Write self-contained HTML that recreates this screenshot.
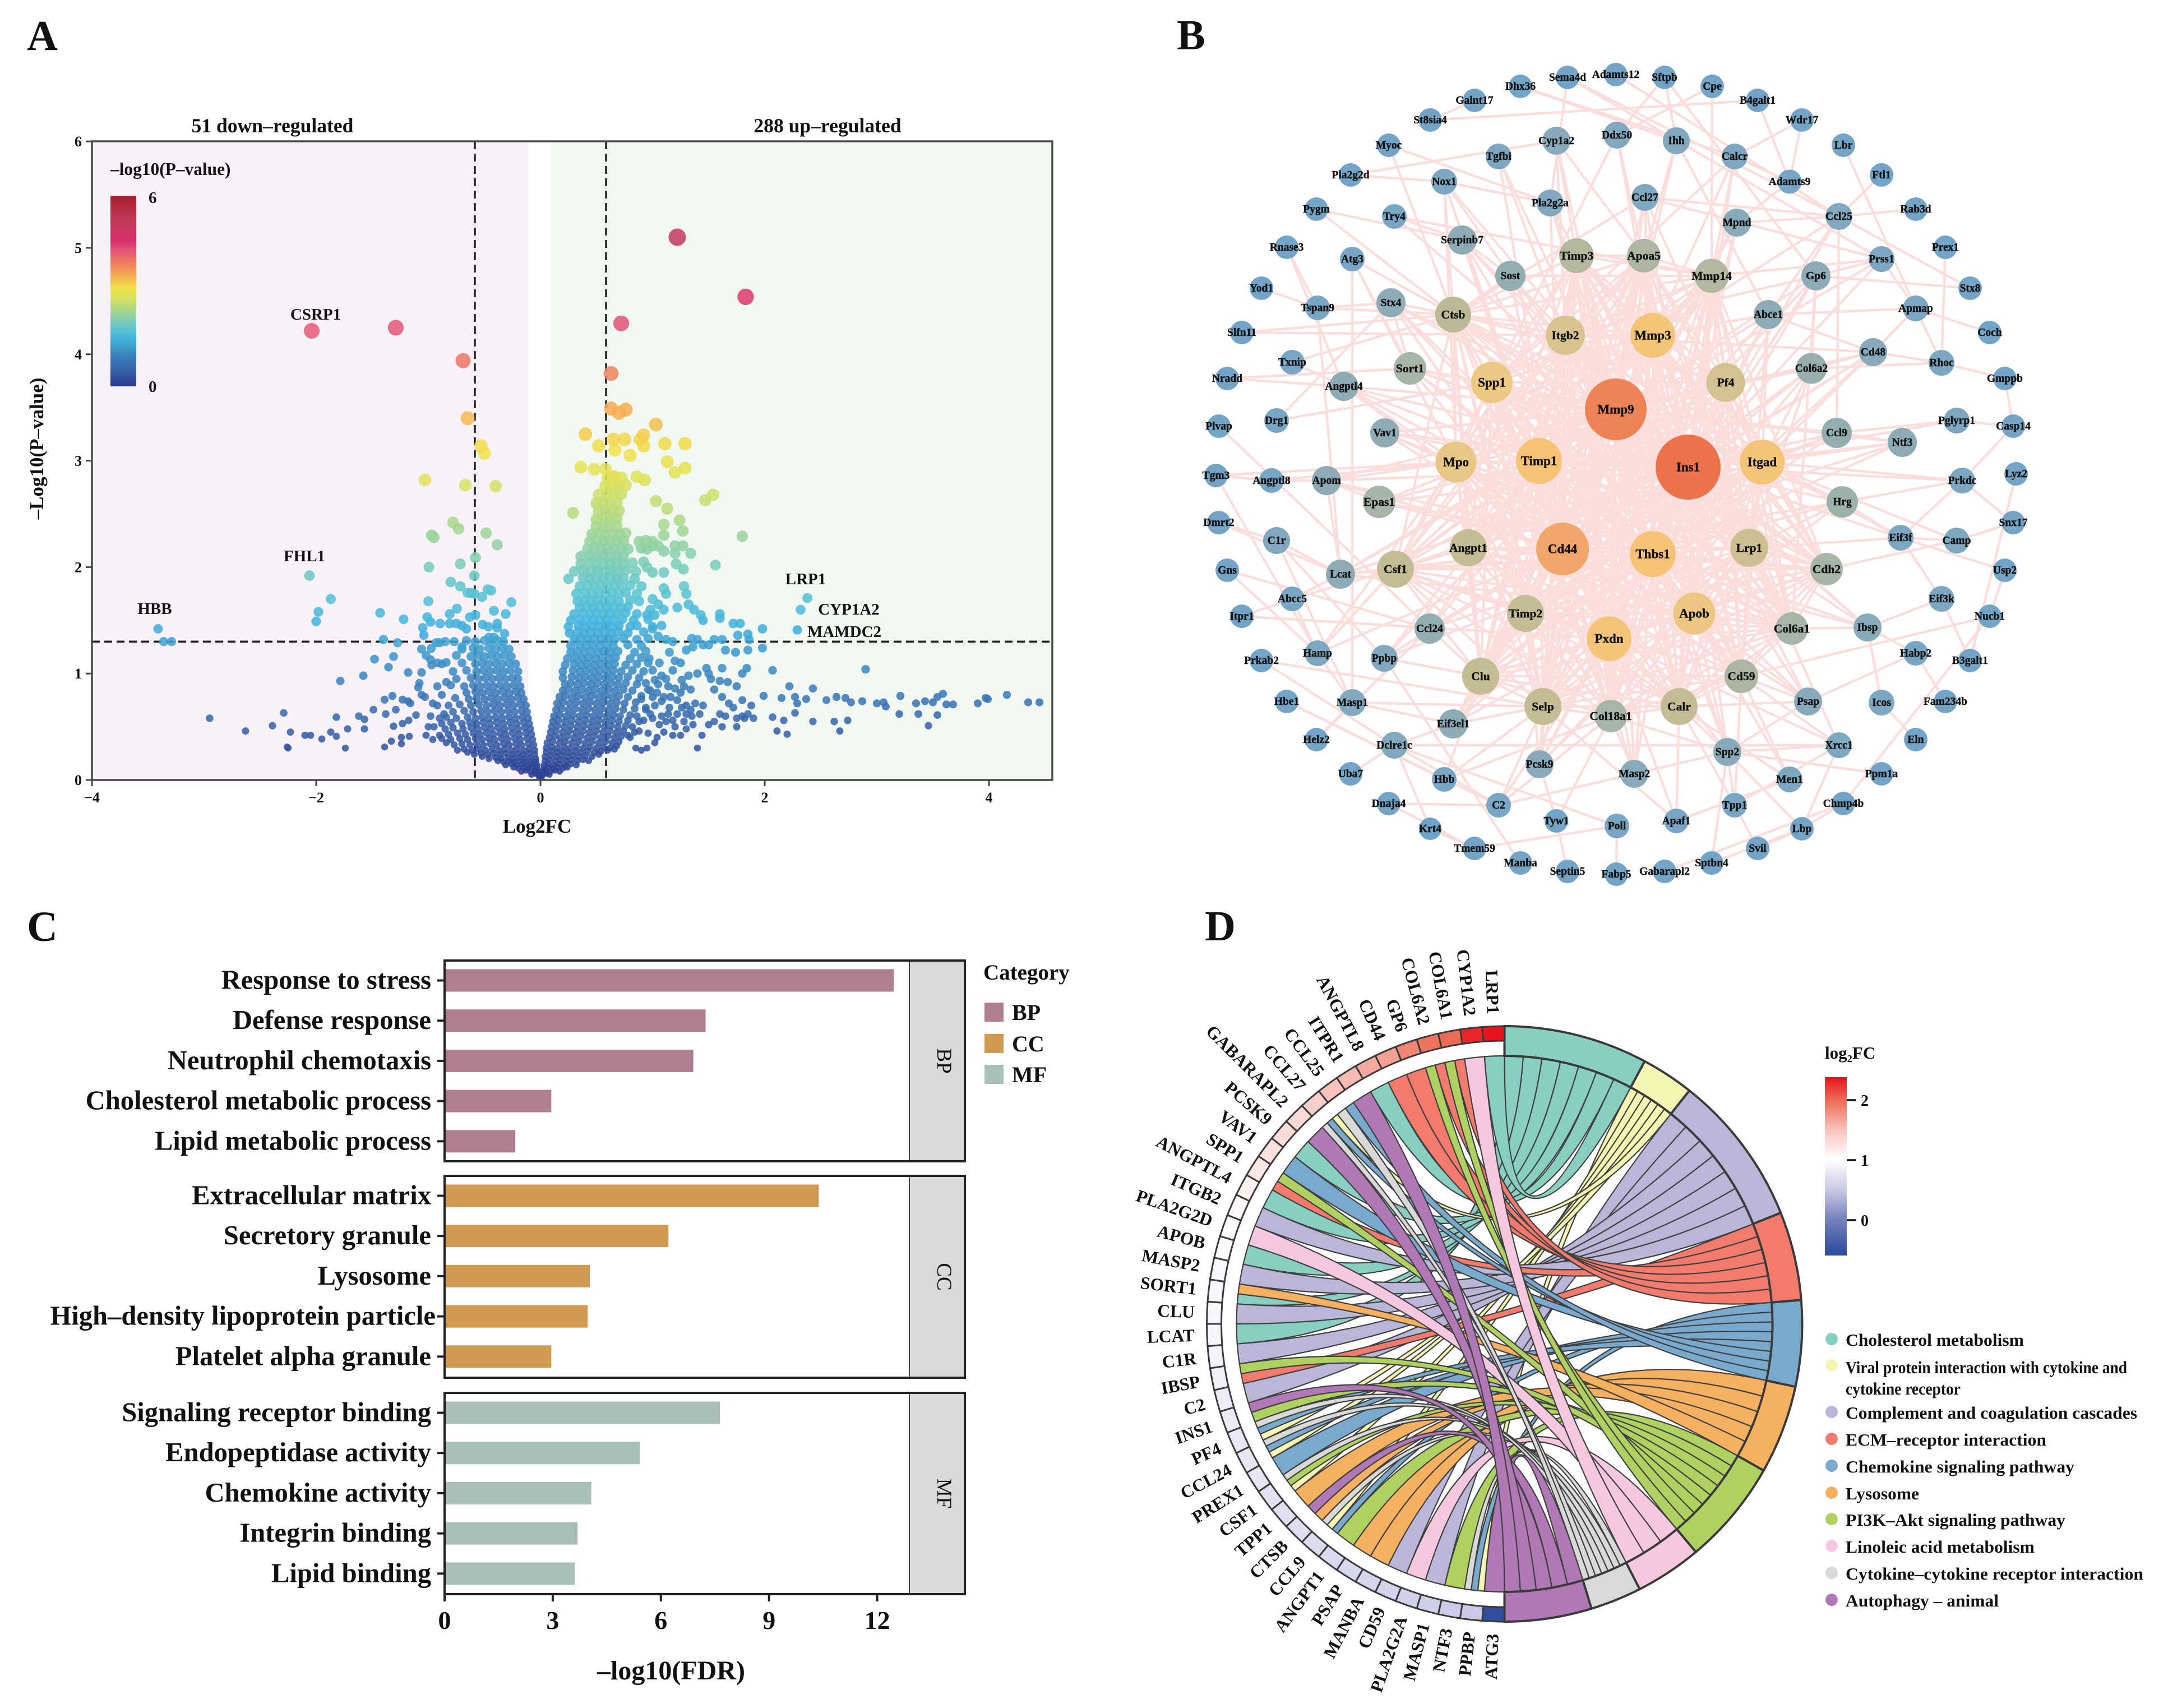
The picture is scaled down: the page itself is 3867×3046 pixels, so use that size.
<!DOCTYPE html>
<html lang="en">
<head>
<meta charset="utf-8">
<title>Multi-panel transcriptomics figure</title>
<style>
html,body{margin:0;padding:0;background:#fff;}
svg{display:block;font-family:"Liberation Serif",serif;}
text{fill:#111;}
.b{font-weight:bold;}
</style>
</head>
<body>
<svg id="fig" xmlns="http://www.w3.org/2000/svg" width="3867" height="3046" viewBox="0 0 3867 3046">
<defs>
<linearGradient id="volcanoGrad" x1="0" y1="1" x2="0" y2="0"></linearGradient>
<linearGradient id="fcGrad" x1="0" y1="1" x2="0" y2="0"></linearGradient>
</defs>
<rect x="0" y="0" width="3867" height="3046" fill="#fff"/>
<text class="b" x="48" y="89" font-size="76">A</text>
<text class="b" x="2099" y="88" font-size="76">B</text>
<text class="b" x="48" y="1678" font-size="76">C</text>
<text class="b" x="2149" y="1677" font-size="76">D</text>

<g id="panelA">
<rect x="164" y="252" width="778" height="1139" fill="#f8f2f8"/>
<rect x="983" y="252" width="894" height="1139" fill="#f1f8f2"/>
<g id="volcanoLines"></g>
<g id="volcanoPoints"></g>
<rect x="164" y="252" width="1713" height="1139" fill="none" stroke="#4a4a4a" stroke-width="3.5"/>
<g id="volcanoAxes"></g>
<text class="b" x="486" y="236" font-size="35.6" text-anchor="middle">51 down–regulated</text>
<text class="b" x="1476" y="236" font-size="35.6" text-anchor="middle">288 up–regulated</text>
<text class="b" x="958" y="1485" font-size="35" text-anchor="middle">Log2FC</text>
<text class="b" transform="translate(77,800) rotate(-90)" font-size="35" text-anchor="middle">–Log10(P–value)</text>
<text class="b" x="197" y="312" font-size="31.4">–log10(P–value)</text>
<rect x="197" y="349" width="46" height="340" fill="url(#volcanoGrad)"/>
<text class="b" x="265" y="362" font-size="29">6</text>
<text class="b" x="265" y="699" font-size="29">0</text>
<text class="b" x="563" y="570" font-size="29" text-anchor="middle">CSRP1</text>
<text class="b" x="543" y="1001" font-size="29" text-anchor="middle">FHL1</text>
<text class="b" x="276" y="1095" font-size="29" text-anchor="middle">HBB</text>
<text class="b" x="1437" y="1042" font-size="29" text-anchor="middle">LRP1</text>
<text class="b" x="1514" y="1096" font-size="29" text-anchor="middle">CYP1A2</text>
<text class="b" x="1506" y="1136" font-size="29" text-anchor="middle">MAMDC2</text>
</g>

<g id="panelB">
<g id="netEdges"></g>
<g id="netNodes"></g>
</g>

<g id="panelC">
<g id="barPanels"></g>
<text class="b" x="1197" y="2995" font-size="48" text-anchor="middle">–log10(FDR)</text>
<text class="b" x="1754" y="1747" font-size="39">Category</text>
</g>

<g id="panelD">
<g id="chordRibbons"></g>
<g id="chordSectors"></g>
<g id="chordGenes"></g>
<text class="b" x="3255" y="1888" font-size="31">log₂FC</text>
<rect x="3255" y="1921" width="39" height="318" fill="url(#fcGrad)"/>
<g id="fcTicks"></g>
<g id="pathLegend"></g>
<text class="b" x="3292" y="2449" font-size="31" textLength="502" lengthAdjust="spacingAndGlyphs">Viral protein interaction with cytokine and</text>
<text class="b" x="3292" y="2487" font-size="31" textLength="205" lengthAdjust="spacingAndGlyphs">cytokine receptor</text>
</g>
</svg>

<script>
/* ---------- Panel A data: [log2FC, -log10 P] ---------- */
const volcanoXTicks = [-4,-2,0,2,4];
const volcanoYTicks = [0,1,2,3,4,5,6];
const fcThreshold = 0.585;
const pThreshold = 1.3;
const volcanoTop = [[1.22,5.10],[1.83,4.54],[.72,4.29],[-1.29,4.25],[-2.04,4.22],[-.69,3.94],[.63,3.82],[-.65,3.40],[.63,3.49],[.70,3.45],[.76,3.48],[1.03,3.34],[.40,3.25],[.92,3.24],[.89,3.20],[.75,3.20],[.65,3.20],[.52,3.14],[.92,3.14],[1.11,3.16],[1.29,3.16],[.80,3.05],[.665,3.10],[-.53,3.14],[-.50,3.07],[1.13,2.99],[.36,2.94],[.48,2.92],[.58,2.92],[1.29,2.93],[1.2,2.89],[.86,2.85],[.93,2.82],[-1.03,2.82],[-.67,2.77],[-.40,2.76],[.65,2.85]];
const volcanoMid = [[1.54,2.68],[1.47,2.63],[.29,2.51],[1.03,2.62],[1.13,2.55],[1.24,2.44],[1.27,2.34],[1.1,2.40],[1.80,2.29],[-.485,2.32],[-.78,2.42],[-.73,2.36],[-.97,2.30],[-.95,2.28],[-.385,2.21],[1.34,2.13],[-.58,2.09],[-.715,2.03],[-.995,2.0],[1.56,2.02],[1.21,2.03],[1.275,1.98],[-2.06,1.92],[-.59,1.92],[-.80,1.86],[-.715,1.82],[-.47,1.79],[-1.87,1.70],[-.26,1.67],[-1.98,1.58],[-2.0,1.49],[-1.43,1.57],[-1.22,1.51],[-1.0,1.68],[2.38,1.71],[2.32,1.60],[2.29,1.41],[-3.41,1.42],[-3.36,1.30],[-3.29,1.30],[-.615,1.755],[-.59,1.75],[-.52,1.72],[-.44,1.78],[-.65,1.76]];
const volcanoRightTail = [[4.45,.73],[4.35,.73],[4.16,.80],[3.99,.76],[3.97,.77],[3.90,.72],[3.68,.71],[3.62,.71],[3.59,.81],[3.54,.78],[3.54,.61],[3.5,.73],[3.43,.74],[3.35,.72],[3.37,.62],[3.46,.51],[3.21,.79],[3.2,.62],[3.08,.69],[3.06,.73],[3.0,.72],[2.87,.74],[2.77,.73],[2.72,.77],[2.64,.78],[2.55,.75],[2.67,.46],[2.74,.56],[2.62,.55],[2.43,.55],[2.43,.86],[2.37,.76],[2.29,.72],[2.27,.63],[2.27,.78],[2.22,.88],[2.15,.77],[2.2,.43],[2.11,.46],[2.17,.56],[2.07,.59],[1.99,.79],[2.07,1.03],[2.90,1.04]];
const volcanoLeftTail = [[-2.95,.58],[-2.63,.46],[-2.39,.51],[-2.29,.63],[-2.26,.31],[-2.25,.3],[-2.23,.45],[-2.10,.42],[-2.05,.42],[-1.95,.385],[-1.87,.45],[-1.82,.59],[-1.82,.41],[-1.74,.30],[-1.72,.48],[-1.62,.60],[-1.57,.57],[-1.57,.48],[-1.49,.66],[-1.39,.755],[-1.38,.62],[-1.32,.79],[-1.39,.31],[-1.33,.365],[-1.29,.66],[-1.24,.34],[-1.31,.505],[-1.23,.755],[-1.23,.53],[-1.175,.56],[-1.16,.72],[-1.18,.74],[-1.24,.40],[-1.17,.41],[-1.11,.61],[-1.06,.80],[-1.09,.87],[-1.03,.78],[-1.785,.93],[-1.58,.98],[-1.48,1.135],[-1.355,1.06],[-1.31,1.16],[-1.18,1.01],[-1.08,.91],[-1.06,1.01],[-1.40,1.32],[-1.275,1.29],[-1.06,1.23],[-1.02,1.17],[-.975,1.235],[-.98,1.13],[-.93,1.29],[-.90,1.29],[-.97,1.08],[-.92,1.10],[-.88,1.09],[-.84,1.105],[-1.05,1.43],[-1.01,1.53],[-.98,1.485],[-1.04,1.36],[-.895,1.47],[-.81,1.47],[-.75,1.47],[-.745,1.61],[-.81,1.56],[-.63,1.53],[-.58,1.55],[-.415,1.59],[-.31,1.56],[-.515,1.46],[-.465,1.44],[-.385,1.47],[-.385,1.43],[-.46,1.34],[-.415,1.34],[-.32,1.375],[-.7,1.45],[-.66,1.42],[-.77,1.3],[-.85,1.3],[-.7,1.25],[-.9,.42],[-.95,.5],[-.98,.6],[-.92,.7],[-.9,.58],[-.86,.62],[-.96,.72],[-1.0,.5],[-1.02,.42],[-.88,.8],[-.92,.88],[-.84,.92]];
const volcanoLeftCore = [[-.01,.02],[-.02,.05],[-.05,.06],[-.08,.05],[-.02,.08],[-.05,.09],[-.09,.08],[-.13,.09],[-.17,.08],[-.03,.11],[-.07,.12],[-.11,.11],[-.15,.12],[-.2,.11],[-.24,.12],
[-.03,.14],[-.07,.15],[-.11,.14],[-.16,.15],[-.21,.14],[-.26,.15],[-.31,.14],[-.04,.17],[-.08,.18],[-.13,.17],[-.18,.18],[-.23,.17],[-.28,.18],[-.33,.17],[-.38,.18],
[-.04,.2],[-.09,.21],[-.14,.2],[-.19,.21],[-.24,.2],[-.29,.21],[-.35,.2],[-.4,.21],[-.46,.2],[-.52,.22],[-.05,.24],[-.1,.25],[-.15,.24],[-.2,.25],[-.25,.24],[-.31,.25],[-.36,.24],[-.42,.25],[-.47,.24],[-.53,.25],[-.59,.24],[-.65,.26],
[-.05,.28],[-.1,.29],[-.15,.28],[-.21,.29],[-.26,.28],[-.32,.29],[-.37,.28],[-.43,.29],[-.49,.28],[-.55,.29],[-.61,.28],[-.68,.29],[-.74,.28],
[-.06,.33],[-.11,.34],[-.17,.33],[-.22,.34],[-.28,.33],[-.33,.34],[-.39,.33],[-.45,.34],[-.51,.33],[-.57,.34],[-.63,.33],[-.7,.34],[-.77,.33],[-.84,.35],
[-.07,.38],[-.12,.39],[-.18,.38],[-.23,.39],[-.29,.38],[-.35,.39],[-.41,.38],[-.46,.39],[-.52,.38],[-.58,.39],[-.65,.38],[-.72,.39],[-.8,.38],[-.88,.39],[-.96,.38],
[-.08,.43],[-.13,.44],[-.19,.43],[-.25,.44],[-.31,.43],[-.36,.44],[-.42,.43],[-.48,.44],[-.54,.43],[-.6,.44],[-.67,.43],[-.74,.44],[-.82,.43],
[-.09,.48],[-.14,.49],[-.2,.48],[-.26,.49],[-.32,.48],[-.38,.49],[-.44,.48],[-.5,.49],[-.56,.48],[-.62,.49],[-.69,.48],[-.78,.49],[-.85,.48],
[-.1,.53],[-.15,.54],[-.21,.53],[-.27,.54],[-.33,.53],[-.39,.54],[-.45,.53],[-.51,.54],[-.57,.53],[-.63,.54],[-.7,.53],[-.8,.54],[-.88,.53],
[-.11,.58],[-.16,.59],[-.22,.58],[-.28,.59],[-.34,.58],[-.4,.59],[-.46,.58],[-.52,.59],[-.58,.58],[-.65,.59],[-.75,.58],[-.84,.59],
[-.12,.64],[-.17,.65],[-.23,.64],[-.29,.65],[-.35,.64],[-.41,.65],[-.47,.64],[-.53,.65],[-.6,.64],[-.68,.65],[-.78,.64],
[-.13,.7],[-.18,.71],[-.24,.7],[-.3,.71],[-.36,.7],[-.42,.71],[-.48,.7],[-.55,.71],[-.62,.7],[-.72,.71],[-.82,.7],
[-.15,.76],[-.2,.77],[-.26,.76],[-.32,.77],[-.38,.76],[-.44,.77],[-.5,.76],[-.57,.77],[-.64,.76],[-.76,.77],
[-.17,.82],[-.22,.83],[-.28,.82],[-.34,.83],[-.4,.82],[-.46,.83],[-.52,.82],[-.58,.83],[-.66,.82],
[-.18,.88],[-.24,.89],[-.3,.88],[-.36,.89],[-.42,.88],[-.48,.89],[-.54,.88],[-.6,.89],[-.68,.88],[-.8,.89],
[-.2,.95],[-.25,.96],[-.31,.95],[-.37,.96],[-.43,.95],[-.49,.96],[-.55,.95],[-.62,.96],[-.75,.95],
[-.2,1.02],[-.27,1.03],[-.33,1.02],[-.39,1.03],[-.45,1.02],[-.51,1.03],[-.57,1.02],[-.66,1.03],[-.78,1.02],
[-.22,1.09],[-.28,1.1],[-.34,1.09],[-.4,1.1],[-.46,1.09],[-.52,1.1],[-.58,1.09],[-.7,1.1],
[-.26,1.16],[-.32,1.17],[-.38,1.16],[-.44,1.17],[-.5,1.16],[-.56,1.17],[-.62,1.16],[-.75,1.17],
[-.28,1.23],[-.34,1.24],[-.4,1.23],[-.46,1.24],[-.54,1.23],[-.6,1.24],[-.7,1.23],
[-.33,1.3],[-.38,1.31],[-.44,1.3],[-.5,1.31],[-.58,1.3],[-.66,1.31]];
const volcanoRightCoreLow = [[.01,.02],[.02,.05],[.05,.06],[.08,.05],[.02,.08],[.05,.09],[.09,.08],[.13,.09],[.17,.08],[.03,.11],[.07,.12],[.11,.11],[.15,.12],[.2,.11],[.24,.12],
[.03,.14],[.07,.15],[.12,.14],[.17,.15],[.22,.14],[.27,.15],[.32,.14],[.04,.18],[.08,.19],[.13,.18],[.18,.19],[.23,.18],[.28,.19],[.33,.18],[.38,.19],[.43,.18],
[.04,.22],[.09,.23],[.14,.22],[.19,.23],[.24,.22],[.29,.23],[.34,.22],[.4,.23],[.46,.22],[.52,.24],[.05,.26],[.1,.27],[.15,.26],[.2,.27],[.25,.26],[.31,.27],[.36,.26],[.42,.27],[.48,.26],[.54,.27],[.6,.28],[.66,.29],
[.05,.3],[.1,.31],[.15,.3],[.21,.31],[.26,.3],[.32,.31],[.38,.3],[.44,.31],[.5,.3],[.56,.31],[.62,.3],[.68,.32],
[.06,.35],[.11,.36],[.17,.35],[.22,.36],[.28,.35],[.34,.36],[.4,.35],[.46,.36],[.52,.35],[.58,.36],[.64,.35],[.7,.36],
[.08,.4],[.13,.41],[.18,.4],[.24,.41],[.3,.4],[.36,.41],[.42,.4],[.48,.41],[.54,.4],[.6,.41],[.66,.4],[.72,.41],[.8,.4],
[.09,.45],[.14,.46],[.2,.45],[.26,.46],[.32,.45],[.38,.46],[.44,.45],[.5,.46],[.56,.45],[.62,.46],[.68,.45],[.74,.46],[.84,.45],
[.1,.5],[.15,.51],[.21,.5],[.27,.51],[.33,.5],[.39,.51],[.45,.5],[.51,.51],[.57,.5],[.63,.51],[.69,.5],[.76,.51],
[.11,.55],[.16,.56],[.22,.55],[.28,.56],[.34,.55],[.4,.56],[.46,.55],[.52,.56],[.58,.55],[.64,.56],[.7,.55],[.78,.56],[.88,.55],
[.12,.6],[.17,.61],[.23,.6],[.29,.61],[.35,.6],[.41,.61],[.47,.6],[.53,.61],[.59,.6],[.65,.61],[.71,.6],[.8,.61],
[.14,.66],[.19,.67],[.25,.66],[.31,.67],[.37,.66],[.43,.67],[.49,.66],[.55,.67],[.61,.66],[.67,.67],[.74,.66],[.84,.67],[.94,.66],
[.15,.72],[.2,.73],[.26,.72],[.32,.73],[.38,.72],[.44,.73],[.5,.72],[.56,.73],[.62,.72],[.68,.73],[.75,.72],[.85,.73],
[.17,.78],[.22,.79],[.28,.78],[.34,.79],[.4,.78],[.46,.79],[.52,.78],[.58,.79],[.64,.78],[.7,.79],[.78,.78],[.9,.79],[1.0,.78],
[.2,.84],[.25,.85],[.31,.84],[.37,.85],[.43,.84],[.49,.85],[.55,.84],[.61,.85],[.67,.84],[.74,.85],[.82,.84],[.96,.85],
[.22,.9],[.27,.91],[.33,.9],[.39,.91],[.45,.9],[.51,.91],[.57,.9],[.63,.91],[.69,.9],[.76,.91],[.86,.9],[.94,.91]];
const volcanoRightCoreHigh = [[.2,.96],[.28,.97],[.34,.96],[.4,.97],[.46,.96],[.52,.97],[.58,.96],[.64,.97],[.7,.96],[.78,.97],[.88,.96],
[.2,1.02],[.29,1.03],[.35,1.02],[.41,1.03],[.47,1.02],[.53,1.03],[.59,1.02],[.65,1.03],[.72,1.02],[.82,1.03],[.92,1.02],[1.0,1.03],
[.22,1.08],[.3,1.09],[.36,1.08],[.42,1.09],[.48,1.08],[.54,1.09],[.6,1.08],[.66,1.09],[.76,1.08],[.86,1.09],
[.24,1.14],[.31,1.15],[.37,1.14],[.43,1.15],[.49,1.14],[.55,1.15],[.61,1.14],[.67,1.15],[.8,1.14],[.9,1.15],[.97,1.14],
[.27,1.2],[.33,1.21],[.39,1.2],[.45,1.21],[.51,1.2],[.57,1.21],[.63,1.2],[.69,1.21],[.84,1.2],[.94,1.21],
[.27,1.26],[.35,1.27],[.41,1.26],[.47,1.27],[.53,1.26],[.59,1.27],[.65,1.26],[.78,1.27],[.9,1.26],
[.3,1.32],[.36,1.33],[.42,1.32],[.48,1.33],[.54,1.32],[.6,1.33],[.66,1.32],[.74,1.33],[.86,1.32],[.96,1.33],
[.26,1.38],[.33,1.39],[.39,1.38],[.45,1.39],[.51,1.38],[.57,1.39],[.63,1.38],[.7,1.39],[.78,1.38],[.92,1.39],
[.25,1.44],[.34,1.45],[.4,1.44],[.46,1.45],[.52,1.44],[.58,1.45],[.64,1.44],[.7,1.45],[.8,1.44],[.86,1.45],[1.0,1.44],
[.27,1.5],[.35,1.51],[.41,1.5],[.47,1.51],[.53,1.5],[.59,1.51],[.65,1.5],[.73,1.51],[.83,1.5],[.96,1.51],
[.3,1.56],[.38,1.57],[.44,1.56],[.5,1.57],[.56,1.56],[.62,1.57],[.68,1.56],[.76,1.57],[.86,1.56],
[.35,1.62],[.41,1.63],[.47,1.62],[.53,1.63],[.59,1.62],[.65,1.63],[.72,1.62],[.78,1.63],
[.33,1.68],[.39,1.69],[.45,1.68],[.51,1.69],[.57,1.68],[.63,1.69],[.7,1.68],[.8,1.69],[.88,1.68],
[.32,1.75],[.4,1.76],[.46,1.75],[.52,1.76],[.58,1.75],[.64,1.76],[.7,1.75],[.76,1.76],[.86,1.75],
[.35,1.82],[.42,1.83],[.48,1.82],[.54,1.83],[.6,1.82],[.66,1.83],[.72,1.82],[.8,1.83],[.9,1.82],
[.25,1.89],[.38,1.9],[.44,1.89],[.5,1.9],[.56,1.89],[.62,1.9],[.68,1.89],[.74,1.9],[.84,1.89],
[.3,1.96],[.38,1.97],[.45,1.96],[.51,1.97],[.57,1.96],[.63,1.97],[.69,1.96],[.76,1.97],[.85,1.96],
[.36,2.03],[.44,2.04],[.5,2.03],[.56,2.04],[.62,2.03],[.68,2.04],[.74,2.03],[.82,2.04],
[.36,2.1],[.44,2.11],[.5,2.1],[.56,2.11],[.62,2.1],[.68,2.11],[.74,2.1],
[.42,2.17],[.48,2.18],[.54,2.17],[.6,2.18],[.66,2.17],[.72,2.18],[.78,2.17],[.9,2.18],[.95,2.17],
[.44,2.24],[.5,2.25],[.56,2.24],[.62,2.25],[.68,2.24],[.74,2.25],[.88,2.24],[.94,2.25],[1.0,2.24],
[.46,2.31],[.52,2.32],[.58,2.31],[.64,2.32],[.7,2.31],[.76,2.32],
[.5,2.38],[.56,2.39],[.62,2.38],[.68,2.39],[.5,2.45],[.56,2.46],[.62,2.45],[.68,2.46],
[.52,2.52],[.58,2.53],[.64,2.52],[.7,2.53],[.5,2.6],[.56,2.61],[.62,2.6],[.68,2.61],
[.52,2.68],[.6,2.69],[.66,2.68],[.72,2.69],[.58,2.76],[.64,2.77],[.7,2.76],[.76,2.77],[.6,2.84],[.66,2.85],[.72,2.84]];
const volcanoRightScatter = [[1.02,1.55],[1.1,1.6],[1.22,1.62],[1.32,1.65],[1.37,1.6],[1.43,1.55],[1.45,1.5],[1.6,1.56],[1.6,1.52],[1.72,1.47],[1.78,1.47],[1.76,1.36],[1.86,1.32],[1.85,1.22],[1.98,1.42],[1.98,1.24],[1.65,1.22],[1.74,1.2],[1.55,1.32],[1.35,1.33],[1.4,1.32],[1.45,1.27],[1.5,1.27],[1.62,1.32],[1.85,1.37],[1.3,1.22],[1.36,1.25],[1.84,1.05],[1.8,1.0],[1.62,1.05],[1.5,1.0],[1.48,1.05],[1.4,1.0],[1.32,.98],[1.52,.95],[1.6,.93],[1.67,.92],[1.75,.88],[1.28,.88],[1.34,.85],[1.25,.82],[1.22,.75],[1.3,.7],[1.38,.72],[1.45,.7],[1.55,.85],[1.62,.78],[1.68,.72],[1.72,.68],[1.8,.75],[1.88,.7],[1.85,.62],[1.8,.6],[1.75,.58],[1.65,.6],[1.6,.62],[1.55,.55],[1.5,.52],[1.62,.5],[1.75,.5],[1.82,.58],[1.9,.58],[1.35,.6],[1.28,.55],[1.2,.5],[1.1,.45],[1.18,.42],[1.25,.42],[1.4,.3],[1.02,.35],[.9,.28],[.95,.3],[.85,.3],[1.04,.4],[1.12,.55],[1.08,.6],[1.15,.68],[1.1,.78],[1.05,.9],[1.12,.95],[1.18,1.03],[1.2,1.12],[1.15,1.2],[1.25,1.1],[1.12,1.32],[1.18,1.3],[1.05,1.35],[1.0,1.42],[1.08,1.45],[.95,1.55],[.98,1.6],[1.05,1.65],[1.0,1.7],[1.28,1.82],[1.3,1.75],[1.1,1.8],[1.12,1.75],[1.1,1.95],[1.0,1.95],[.95,2.0],[.92,2.05],[1.05,2.2],[1.1,2.15],[1.0,2.2],[1.2,2.2],[1.2,2.13],[1.27,2.2],[1.1,2.3],[.78,.42],[.82,.5],[.88,.46],[.92,.56],[.86,.6],[.94,.68],[.98,.62],[1.02,.7],[1.06,.52],[.96,.44],[1.0,.58],[.9,.76],[1.04,.82],[.98,.84],[1.08,.74],[1.14,.62],[1.18,.56],[1.22,.62],[1.16,.78],[1.2,.86],[1.26,.94],[1.14,.88],[1.08,.98],[1.02,.94],[.96,1.1],[1.06,1.1],[1.3,.62],[1.34,.66],[1.26,.68],[1.42,.62],[1.3,.48],[1.36,.52],[1.44,.42]];
const pColorValues = [0,.5,1,1.5,1.8,2.3,2.8,3.1,3.5,3.9,4.3,4.6,5.2,6];
const pColorHex = ['#2a3a8e','#3560a8','#3a86c0','#41b4de','#5cc4cf','#9bd49a','#dbe25c','#f2e14a','#f4aa52','#ee7a5e','#e2527a','#d8306e','#c03a5a','#a81c2e'];

/* ---------- Panel B data: [gene, layoutX, layoutY, nodeSize] ---------- */
const networkOuter = [["Dhx36",2712,154,21],["Sema4d",2796,138,21],["Adamts12",2882,133,21],["St8sia4",2551,214,21],["Galnt17",2630,179,21],["Myoc",2477,259,21],["Pla2g2d",2409,312,21],["Pygm",2348,373,21],["Rnase3",2295,441,21],["Yod1",2250,514,21],["Slfn11",2215,593,21],["Nradd",2189,675,21],["Plvap",2174,760,21],["Tgm3",2169,848,21],["Dmrt2",2174,932,21],["Gns",2189,1017,21],["Itpr1",2215,1099,21],["Prkab2",2250,1178,21],["Hbe1",2295,1251,21],["Helz2",2348,1319,21],["Uba7",2409,1380,21],["Dnaja4",2477,1433,21],["Krt4",2551,1478,20],["Tmem59",2630,1513,21],["Manba",2712,1539,21],["Septin5",2796,1554,21],["Fabp5",2883,1559,21],["Gabarapl2",2969,1554,21],["Sptbn4",3053,1539,21],["Svil",3135,1513,21],["Lbp",3214,1478,21],["Chmp4b",3288,1433,21],["Ppm1a",3356,1380,21],["Eln",3417,1319,21],["Fam234b",3470,1251,21],["B3galt1",3514,1178,21],["Nucb1",3549,1099,21],["Usp2",3576,1017,21],["Snx17",3591,932,21],["Lyz2",3596,845,21],["Casp14",3591,760,21],["Gmppb",3576,675,21],["Coch",3549,593,21],["Stx8",3514,514,21],["Prex1",3470,441,21],["Rab3d",3417,373,21],["Ftl1",3356,312,21],["Lbr",3288,259,21],["Wdr17",3214,214,21],["B4galt1",3135,179,21],["Cpe",3054,154,21],["Sftpb",2969,138,21]];
const networkMiddle = [["Cyp1a2",2776,251,25],["Ddx50",2884,241,24],["Tgfbi",2673,279,23],["Nox1",2576,324,23],["Pla2g2a",2765,362,24],["Ccl27",2934,352,24],["Try4",2487,386,22],["Serpinb7",2608,428,26],["Atg3",2412,462,22],["Sost",2694,492,27],["Tspan9",2350,549,22],["Stx4",2481,540,26],["Txnip",2305,646,22],["Sort1",2515,657,29],["Angptl4",2397,689,26],["Drg1",2277,750,22],["Vav1",2470,772,26],["Angptl8",2268,857,22],["Apom",2366,857,26],["Epas1",2460,895,29],["C1r",2277,964,24],["Lcat",2391,1024,26],["Abcc5",2305,1068,22],["Ccl24",2550,1121,27],["Hamp",2350,1165,23],["Ppbp",2469,1174,24],["Masp1",2412,1253,24],["Eif3el1",2592,1291,26],["Dclre1c",2487,1329,24],["Pcsk9",2746,1363,25],["Masp2",2915,1380,25],["Hbb",2576,1390,22],["C2",2673,1436,22],["Tyw1",2776,1464,21],["Poll",2884,1473,22],["Ihh",2990,251,24],["Calcr",3094,279,23],["Adamts9",3192,324,21.5],["Ccl25",3280,386,24],["Mpnd",3098,397,25],["Prss1",3356,462,23],["Gp6",3239,492,26],["Apmap",3417,550,23],["Abce1",3154,561,26],["Cd48",3341,628,25],["Rhoc",3463,647,23],["Col6a2",3231,657,27.5],["Pglyrp1",3490,750,23],["Ccl9",3276,772,27],["Ntf3",3393,789,26],["Prkdc",3500,857,23],["Hrg",3286,895,28],["Eif3f",3390,959,23],["Camp",3490,964,23],["Eif3k",3463,1068,23],["Ibsp",3331,1119,25],["Habp2",3417,1165,22],["Psap",3225,1251,25],["Icos",3356,1253,23],["Xrcc1",3280,1329,23],["Spp2",3081,1341,25],["Men1",3192,1390,23],["Tpp1",3094,1436,22],["Apaf1",2990,1464,22]];
const networkCore = [["Timp3",2812,456,31],["Apoa5",2932,456,30],["Mmp14",3053,492,30.5],["Ctsb",2592,561,32],["Itgb2",2792,598,35],["Mmp3",2948,598,40],["Spp1",2661,682,37],["Mmp9",2882,730,55],["Pf4",3078,682,34.5],["Mpo",2597,824,36.5],["Timp1",2745,822,41],["Ins1",3011,833,58],["Itgad",3143,824,40],["Angpt1",2619,977,33],["Cd44",2787,979,47],["Thbs1",2948,988,41],["Lrp1",3120,977,34],["Csf1",2489,1015,33],["Cdh2",3258,1015,29],["Timp2",2721,1094,33],["Pxdn",2870,1139,40],["Apob",3022,1094,37.5],["Col6a1",3196,1121,29],["Clu",2641,1206,33],["Selp",2752,1260,33],["Col18a1",2873,1277,29],["Calr",2995,1260,33],["Cd59",3106,1206,30]];
const nodeSizeStops = [20,24,27,29,32,35,37,41,47,55,58];
const nodeSizeColors = ['#6ea3c8','#82a8bf','#94adb0','#a6b5a8','#bbb897','#d6c390','#ecc883','#f6c276','#f1a568','#ee8355','#ec7249'];
const visibleEdges = "Galnt17-St8sia4 St8sia4-B4galt1 Dhx36-Calcr Sema4d-Pla2g2a Sema4d-Prss1 Myoc-Pla2g2a Myoc-Ctsb Pla2g2d-Cyp1a2 Pla2g2d-Nox1 Nox1-Pla2g2a Pygm-Serpinb7 Pygm-Ctsb Try4-Serpinb7 Nox1-Sost Nox1-Ctsb Rnase3-Tspan9 Rnase3-Angptl4 Yod1-Tspan9 Tspan9-Stx4 Tspan9-Ctsb Tspan9-Lcat Atg3-Ctsb Atg3-Masp1 Atg3-Sort1 Stx4-Sort1 Slfn11-Ctsb Slfn11-Itgb2 Txnip-Ctsb Txnip-Angptl4 Nradd-Angptl4 Nradd-Sort1 Drg1-Stx4 Drg1-Spp1 Plvap-Ccl24 Tgm3-Hamp Tgm3-Mpo Dmrt2-C1r Dmrt2-Lcat C1r-Lcat C1r-Ppbp C1r-Masp1 Gns-Hamp Gns-Ccl24 Abcc5-Lcat Itpr1-Abcc5 Itpr1-Pxdn Abcc5-Hamp Hamp-Masp1 Prkab2-Selp Prkab2-Dclre1c Hbe1-Hbb Hbe1-C2 Helz2-Masp1 Helz2-Ccl24 Masp1-Eif3el1 Masp1-Selp Uba7-Dclre1c Dclre1c-Eif3el1 Dclre1c-Poll Dclre1c-Xrcc1 Dnaja4-C2 Dnaja4-Tmem59 Krt4-Tmem59 Krt4-Dclre1c Manba-Ppbp Tmem59-Poll Tyw1-Septin5 Poll-Fabp5 Tyw1-Pcsk9 Tyw1-Col18a1 Hbb-Clu Hbb-Col18a1 C2-Dclre1c B4galt1-Adamts9 Wdr17-Calcr Wdr17-Adamts9 Cpe-Mmp14 Lbr-Apmap Ftl1-Ccl25 Ccl25-Rab3d Ccl25-Stx8 Ccl25-Ccl9 Ccl25-Mpnd Adamts9-Calcr Adamts9-Mpnd Prex1-Rhoc Prss1-Apmap Prss1-Gp6 Prss1-Ccl27 Stx8-Gp6 Apmap-Coch Apmap-Abce1 Apmap-Rhoc Apmap-Cd48 Cd48-Rhoc Rhoc-Gmppb Rhoc-Col6a2 Gmppb-Casp14 Abce1-Cd48 Gp6-Col6a2 Casp14-Pglyrp1 Pglyrp1-Ccl9 Ntf3-Ccl9 Casp14-Prkdc Lyz2-B3galt1 Snx17-Prkdc Snx17-Camp Usp2-Eif3f Usp2-Nucb1 Camp-Eif3f Camp-Cdh2 Prkdc-Hrg Eif3f-Eif3k Eif3k-Ibsp Eif3k-B3galt1 Ibsp-Habp2 Nucb1-Chmp4b Nucb1-Cd59 Habp2-Fam234b Habp2-Psap Icos-Eln Icos-Ibsp Psap-Spp2 Psap-Calr Xrcc1-Spp2 Spp2-Ppm1a Xrcc1-Tpp1 Lbp-Chmp4b Lbp-Xrcc1 Lbp-Svil Lbp-Spp2 Men1-Apaf1 Men1-Cd59 Tpp1-Svil Tpp1-Spp2 Spp2-Sptbn4 Sptbn4-Lbp Apaf1-Calr Gabarapl2-Chmp4b Sftpb-Ddx50 Cpe-Ddx50 Sftpb-Gp6 Adamts12-Ccl25 Sftpb-Ihh Dhx36-Ihh Sema4d-Ccl25";
const ringLinks = "Cyp1a2:Timp3,Mmp9,Itgb2,Apoa5|Ddx50:Ins1,Spp1,Mmp3|Tgfbi:Itgb2,Cd44,Mmp9|Nox1:Mpo,Timp1,Ins1|Pla2g2a:Apob,Ins1,Thbs1|Ccl27:Ins1,Mmp9,Itgad,Ctsb|Serpinb7:Ins1,Timp1,Mmp9,Sost|Sost:Ins1,Mmp9,Cd44,Ctsb,Mmp14|Atg3:Mpo|Stx4:Mmp9,Cd44,Timp1,Ins1,Ctsb|Try4:Mmp14,Ins1|Ihh:Mmp9,Cd44,Abce1|Calcr:Ins1,Mmp14,Mmp3,Spp1|Mpnd:Ins1,Mmp9,Cd44|Gp6:Ins1,Col6a2,Mmp9,Itgb2,Col6a1|Prss1:Mmp14,Ins1,Timp1|Abce1:Ins1,Lrp1,Itgad,Cd44,Mmp3|Cd48:Itgb2,Col6a2,Itgad|Ccl25:Ins1,Mmp3,Abce1,Ccl27|Col6a2:Ins1,Mmp9,Cd44,Itgad,Lrp1|Ccl9:Ins1,Mmp9,Thbs1,Itgad|Ntf3:Ins1,Itgad|Pglyrp1:Ins1|Prkdc:Ins1,Itgad,Eif3f|Hrg:Apob,Ins1,Thbs1,Lrp1,Itgad|Eif3f:Itgad,Lrp1,Ins1,Hrg|Camp:Itgad|Ibsp:Cd44,Col6a1,Lrp1,Thbs1|Psap:Cd59,Thbs1,Apob|Spp2:Apob,Calr,Col18a1|Men1:Calr,Apob|Xrcc1:Cd59,Lrp1,Pxdn|Tpp1:Cd59,Calr|Apaf1:Pxdn,Selp|Masp2:Pxdn,Col18a1,Spp2,Thbs1|Pcsk9:Selp,Apob,Timp2,Lrp1|Eif3el1:Clu,Selp,Timp2,Pxdn|Ccl24:Mmp9,Timp1,Cd44,Ins1,Clu|Ppbp:Mmp9,Timp1,Clu|Hamp:Mpo,Csf1,Cd44|Lcat:Apob,Ins1,Mmp9,Csf1,Timp1|Apom:Ins1,Mpo,Lcat,Epas1|Sort1:Ins1,Mmp9,Timp1|Vav1:Ins1,Mpo,Timp1,Mmp9|Angptl4:Ins1,Mmp9,Timp1,Mpo,Cd44|Angptl8:Mpo,Apom,Tgm3|Abcc5:Lcat,Csf1|Hbb:Col18a1,Selp,Clu|C2:Selp,Col18a1,Masp2,Pxdn|Epas1:Ins1,Mmp9,Cd44,Timp1,Thbs1|Sort1:Cd44,Spp1";
const hubFanSources = ["Ins1","Mmp9","Cd44","Thbs1"];
const hubFanTargets = ["Pla2g2a","Ccl27","Serpinb7","Sost","Stx4","Sort1","Angptl4","Vav1","Apom","Epas1","Lcat","Ccl24","Ppbp","Eif3el1","Pcsk9","Masp2","Mpnd","Gp6","Abce1","Cd48","Col6a2","Ccl9","Ntf3","Hrg","Ibsp","Psap","Spp2"];

/* ---------- Panel C data ---------- */
const bpTerms = ["Response to stress","Defense response","Neutrophil chemotaxis","Cholesterol metabolic process","Lipid metabolic process"];
const bpValues = [12.46,7.24,6.9,2.96,1.96];
const ccTerms = ["Extracellular matrix","Secretory granule","Lysosome","High–density lipoprotein particle","Platelet alpha granule"];
const ccValues = [10.38,6.21,4.03,3.97,2.96];
const mfTerms = ["Signaling receptor binding","Endopeptidase activity","Chemokine activity","Integrin binding","Lipid binding"];
const mfValues = [7.64,5.42,4.07,3.69,3.61];
const fdrTicks = [0,3,6,9,12];
const categoryNames = ["BP","CC","MF"];

/* ---------- Panel D data ---------- */
const pathwayNames = ["Cholesterol metabolism","Viral protein interaction with cytokine and cytokine receptor","Complement and coagulation cascades","ECM–receptor interaction","Chemokine signaling pathway","Lysosome","PI3K–Akt signaling pathway","Linoleic acid metabolism","Cytokine–cytokine receptor interaction","Autophagy – animal"];
const pathwayKeys = ["Chol","Viral","Comp","ECM","Chem","Lys","PI3K","Lino","Cyto","Auto"];
const pathwaySpans = [28.1,10.3,29.7,17.3,16.8,17.3,20.5,13,10,17];
const geneNames = ["LRP1","CYP1A2","COL6A1","COL6A2","GP6","CD44","ANGPTL8","ITPR1","CCL25","CCL27","GABARAPL2","PCSK9","VAV1","SPP1","ANGPTL4","ITGB2","PLA2G2D","APOB","MASP2","SORT1","CLU","LCAT","C1R","IBSP","C2","INS1","PF4","CCL24","PREX1","CSF1","TPP1","CTSB","CCL9","ANGPT1","PSAP","MANBA","CD59","PLA2G2A","MASP1","NTF3","PPBP","ATG3"];
const geneFC = [2.38,2.3,2.0,1.95,1.85,1.7,1.65,1.55,1.5,1.4,1.32,1.28,1.25,1.2,1.12,1.05,1.0,.96,.94,.93,.92,.91,.88,.86,.84,.82,.8,.78,.76,.74,.72,.7,.68,.66,.64,.62,.6,.58,.56,.54,.52,-.55];
const genePathways = ["Chol","Lino","ECM PI3K","ECM PI3K","ECM","ECM","Chol","Auto","Chem Cyto","Viral Chem Cyto","Auto","Chol","Chem","PI3K ECM","Chol","Comp","Lino","Chol","Comp","Lys Chol","Comp","Chol","Comp","PI3K ECM","Comp","Auto PI3K","Cyto Chem Viral","Cyto Chem Viral","Chem","Cyto PI3K Viral","Lys","Auto Lys","Cyto Viral Chem","PI3K","Lys","Lys","Comp","Lino","Comp","PI3K","Cyto Chem Viral","Auto"];
const fcLegendTicks = [2,1,0];
const fcColorValues = [-.59,0,.5,1,1.5,2,2.38];
const fcColorHex = ['#2a4a9e','#7480bb','#c8c8e6','#ffffff','#f9c3bd','#ec6b55','#e8141e'];
const pathwayColors = ['#88cfc2','#f6f6b4','#bab6d8','#f27b6e','#79a9cd','#f6b061','#aed162','#f6c8df','#d9d9d9','#b178b6'];

/* ---------- helpers ---------- */
const NS='http://www.w3.org/2000/svg';
function mk(tag,attrs,parent,txt){const e=document.createElementNS(NS,tag);for(const k in attrs)e.setAttribute(k,attrs[k]);if(txt!==undefined)e.textContent=txt;parent.appendChild(e);return e;}
function hexRgb(h){return [parseInt(h.slice(1,3),16),parseInt(h.slice(3,5),16),parseInt(h.slice(5,7),16)];}
function ramp(v,xs,cs){if(v<=xs[0])return cs[0];for(let i=1;i<xs.length;i++){if(v<=xs[i]){const t=(v-xs[i-1])/(xs[i]-xs[i-1]),a=hexRgb(cs[i-1]),b=hexRgb(cs[i]);return 'rgb('+a.map((c,j)=>Math.round(c+(b[j]-c)*t)).join(',')+')';}}return cs[cs.length-1];}
function fillGrad(id,xs,cs){const g=document.getElementById(id),lo=xs[0],hi=xs[xs.length-1];xs.forEach((x,i)=>mk('stop',{offset:(x-lo)/(hi-lo),'stop-color':cs[i]},g));}
fillGrad('volcanoGrad',pColorValues,pColorHex);
fillGrad('fcGrad',fcColorValues,fcColorHex);

/* ---------- Panel A ---------- */
const vx=v=>964+200*v, vy=v=>1391-189.8*v;
const vr=v=>Math.min(15.5,5.6+2.0*v);
const ptsG=document.getElementById('volcanoPoints');
const lineG=document.getElementById('volcanoLines');
const allVolcano=[].concat(volcanoLeftTail,volcanoRightTail,volcanoLeftCore,volcanoRightCoreLow,volcanoRightCoreHigh,volcanoRightScatter,volcanoMid,volcanoTop).sort((a,b)=>a[1]-b[1]);
allVolcano.forEach(p=>{
  const c=mk('circle',{cx:vx(p[0]),cy:vy(p[1]),r:vr(p[1]),fill:ramp(p[1],pColorValues,pColorHex),'fill-opacity':.85},ptsG);
  
  
});
const axA=document.getElementById('volcanoAxes');
[-fcThreshold,fcThreshold].forEach(v=>{
  const l=mk('line',{x1:vx(v),x2:vx(v),y1:252,y2:1391,stroke:'#222','stroke-width':3.5,'stroke-dasharray':'14 8'},lineG);
  
  
});
const hl=mk('line',{x1:164,x2:1877,y1:vy(pThreshold),y2:vy(pThreshold),stroke:'#222','stroke-width':3.5,'stroke-dasharray':'14 8'},lineG);


volcanoXTicks.forEach(v=>{
  const t=mk('line',{x1:vx(v),x2:vx(v),y1:1391,y2:1402,stroke:'#444','stroke-width':3},axA);
  
  
  const s=mk('text',{x:vx(v),y:1431,'font-size':26,'font-weight':'bold','text-anchor':'middle'},axA,(v<0?'−'+(-v):''+v));
  
  
});
volcanoYTicks.forEach(v=>{
  const t=mk('line',{x1:153,x2:164,y1:vy(v),y2:vy(v),stroke:'#444','stroke-width':3},axA);
  
  
  const s=mk('text',{x:146,y:vy(v)+9,'font-size':26,'font-weight':'bold','text-anchor':'end'},axA,''+v);
  
  
});

/* ---------- Panel B ---------- */
const nodes=[].concat(networkOuter,networkMiddle,networkCore);
const nodeMap={};nodes.forEach(n=>nodeMap[n[0]]=n);
const edgeG=document.getElementById('netEdges'),nodeG=document.getElementById('netNodes');
function drawEdge(a,b){
  const A=nodeMap[a],B=nodeMap[b];if(!A||!B)return;
  const l=mk('line',{x1:A[1],y1:A[2],x2:B[1],y2:B[2],stroke:'#fbdedb','stroke-width':4.4},edgeG);
  
  
}
visibleEdges.split(' ').forEach(e=>{const p=e.split('-');drawEdge(p[0],p[1]);});
ringLinks.split('|').forEach(r=>{const p=r.split(':');p[1].split(',').forEach(t=>drawEdge(p[0],t));});
for(let i=0;i<networkCore.length;i++)for(let j=i+1;j<networkCore.length;j++)drawEdge(networkCore[i][0],networkCore[j][0]);
hubFanSources.forEach(s=>hubFanTargets.forEach(t=>drawEdge(s,t)));
nodes.forEach(n=>{
  const c=mk('circle',{cx:n[1],cy:n[2],r:n[3],fill:ramp(n[3],nodeSizeStops,nodeSizeColors)},nodeG);
  
  
  const fs=n[3]>=36?23:(n[3]>=29?21.5:19.5);
  const s=mk('text',{x:n[1],y:n[2]+fs*.32,'font-size':fs,'font-weight':'bold','text-anchor':'middle',stroke:'#111','stroke-width':.4},nodeG,n[0]);
  
  
});

/* ---------- Panel C ---------- */
const barG=document.getElementById('barPanels');
const bx=v=>793+64.3*v;
const barSets=[{t:bpTerms,v:bpValues,top:1713,bottom:2071,color:'#b07e91',key:categoryNames[0]},{t:ccTerms,v:ccValues,top:2097,bottom:2457,color:'#d19a53',key:categoryNames[1]},{t:mfTerms,v:mfValues,top:2484,bottom:2843,color:'#aabfb6',key:categoryNames[2]}];
barSets.forEach(set=>{
  const strip=mk('rect',{x:1622,y:set.top,width:99,height:set.bottom-set.top,fill:'#d9d9d9'},barG);
  
  
  const sl=mk('line',{x1:1622,x2:1622,y1:set.top,y2:set.bottom,stroke:'#444','stroke-width':2},barG);
  
  
  const st=mk('text',{transform:'translate(1672,'+(set.top+set.bottom)/2+') rotate(90)','font-size':37,'text-anchor':'middle',fill:'#333'},barG,set.key);
  
  
  set.t.forEach((term,i)=>{
    const cy=set.top+35.5+i*71.7;
    const r=mk('rect',{x:795,y:cy-20,width:bx(set.v[i])-795,height:40,fill:set.color},barG);
    
    
    const tk=mk('line',{x1:780,x2:793,y1:cy,y2:cy,stroke:'#222','stroke-width':4},barG);
    
    
    const lab=mk('text',{x:term.length>30?777:769,y:cy+15,'font-size':48.6,'font-weight':'bold','text-anchor':'end'},barG,term);
    
    
  });
  const fr=mk('rect',{x:793,y:set.top,width:928,height:set.bottom-set.top,fill:'none',stroke:'#222','stroke-width':4},barG);
  
  
});
fdrTicks.forEach(v=>{
  const t=mk('line',{x1:bx(v),x2:bx(v),y1:2843,y2:2856,stroke:'#222','stroke-width':4},barG);
  
  
  const s=mk('text',{x:bx(v),y:2905,'font-size':46,'font-weight':'bold','text-anchor':'middle'},barG,''+v);
  
  
});
barSets.forEach((set,i)=>{
  const yc=[1805,1861,1916][i];
  const r=mk('rect',{x:1756,y:yc-17,width:34,height:34,fill:set.color},barG);
  
  
  const s=mk('text',{x:1805,y:yc+14,'font-size':40,'font-weight':'bold'},barG,set.key);
  
  
});

/* ---------- Panel D ---------- */
const CX=2683.5,CY=2361,R_OUT=531,R_GENE=505,R_IN=478;
const rad=d=>d*Math.PI/180;
const pt=(r,a)=>(CX+r*Math.sin(rad(a))).toFixed(1)+' '+(CY-r*Math.cos(rad(a))).toFixed(1);
function annular(r1,r2,a,b){const lg=(b-a)>180?1:0;return 'M'+pt(r2,a)+'A'+r2+' '+r2+' 0 '+lg+' 1 '+pt(r2,b)+'L'+pt(r1,b)+'A'+r1+' '+r1+' 0 '+lg+' 0 '+pt(r1,a)+'Z';}
const sectorG=document.getElementById('chordSectors'),geneG=document.getElementById('chordGenes'),ribG=document.getElementById('chordRibbons');
let acc=0;const pathRange={};
pathwayKeys.forEach((k,i)=>{
  pathRange[k]=[acc,acc+pathwaySpans[i]];
  const p=mk('path',{d:annular(R_IN,R_OUT,acc,acc+pathwaySpans[i]),fill:pathwayColors[i],stroke:'#3a3a3a','stroke-width':4},sectorG);
  
  
  acc+=pathwaySpans[i];
});
const geneStep=180/geneNames.length;
const stripsByPath={};pathwayKeys.forEach(k=>stripsByPath[k]=[]);
geneNames.forEach((g,i)=>{
  const a=i*geneStep,b=(i+1)*geneStep;
  const cell=mk('path',{d:annular(R_GENE,R_OUT,-b,-a),fill:ramp(geneFC[i],fcColorValues,fcColorHex),stroke:'#3a3a3a','stroke-width':3},geneG);
  
  
  const mid=(a+b)/2;
  const x=CX-553*Math.sin(rad(mid)),y=CY-553*Math.cos(rad(mid));
  const s=mk('text',{transform:'translate('+x.toFixed(1)+','+y.toFixed(1)+') rotate('+(90-mid).toFixed(2)+')','font-size':31.5,'font-weight':'bold','text-anchor':'end',y:10},geneG,g);
  
  
  const list=genePathways[i].split(' ');
  list.forEach((k,j)=>{
    const sa=a+j*geneStep/list.length,sb=a+(j+1)*geneStep/list.length;
    stripsByPath[k].push([sa,sb]);
  });
});
pathwayKeys.forEach((k,i)=>{
  const rg=pathRange[k],list=stripsByPath[k],n=list.length,w=(rg[1]-rg[0])/n;
  /* pathway strips run opposite to gene order, so bundles cross near the middle */
  list.sort((p,q)=>q[0]-p[0]);
  list.forEach((st,j)=>{
    const c=rg[0]+j*w,d=rg[0]+(j+1)*w;
    const path='M'+pt(R_IN,-st[0])+'Q'+CX+' '+CY+' '+pt(R_IN,c)+'A'+R_IN+' '+R_IN+' 0 0 1 '+pt(R_IN,d)+'Q'+CX+' '+CY+' '+pt(R_IN,-st[1])+'A'+R_IN+' '+R_IN+' 0 0 1 '+pt(R_IN,-st[0])+'Z';
    const r=mk('path',{d:path,fill:pathwayColors[i],stroke:'#3f3f3f','stroke-width':2.2},ribG);
    
    
  });
});
const fcG=document.getElementById('fcTicks');
const fcY=v=>2176-107*v;
fcLegendTicks.forEach(v=>{
  const t=mk('line',{x1:3294,x2:3310,y1:fcY(v),y2:fcY(v),stroke:'#111','stroke-width':3.5},fcG);
  
  
  const s=mk('text',{x:3319,y:fcY(v)+10,'font-size':28,'font-weight':'bold'},fcG,''+v);
  
  
});
const legG=document.getElementById('pathLegend');
const legendYs=[2388,2435,2518,2566,2614,2662,2709,2757,2805,2853];
const legendWidths=[318,0,520,358,408,131,392,337,531,273];
pathwayNames.forEach((name,i)=>{
  const c=mk('circle',{cx:3267,cy:legendYs[i],r:11,fill:pathwayColors[i]},legG);
  
  
  if(i===1)return;
  const s=mk('text',{x:3292,y:legendYs[i]+12,'font-size':31,'font-weight':'bold',textLength:legendWidths[i],lengthAdjust:'spacingAndGlyphs'},legG,name);
  
  
});
</script>
</body>
</html>
